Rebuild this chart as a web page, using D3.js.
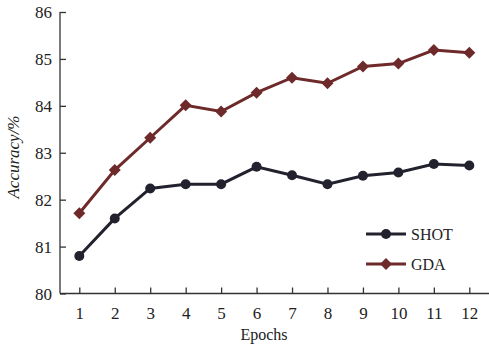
<!DOCTYPE html>
<meta charset="utf-8">
<style>
  body { margin: 0; background: #fff; }
  text { font-family: "Liberation Serif", "Times New Roman", serif; fill: #222; }
  .axis path, .axis line { stroke: #333; stroke-width: 1.3; }
  .axis text { font-size: 17px; }
</style>
<body>
<script src="https://d3js.org/d3.v7.min.js"></script>
<script>

var width = 489,
    height = 345;

var epochs = [1, 2, 3, 4, 5, 6, 7, 8, 9, 10, 11, 12];
var shot = [80.80, 81.60, 82.24, 82.33, 82.33, 82.70, 82.52, 82.33, 82.51, 82.58, 82.76, 82.73];
var gda = [81.71, 82.63, 83.32, 84.01, 83.88, 84.28, 84.60, 84.48, 84.84, 84.90, 85.19, 85.13];
var yTicks = [80, 81, 82, 83, 84, 85, 86];

var svg = d3.select("body").append("svg")
    .attr("width", width)
    .attr("height", height);

var x = d3.scaleLinear().domain([1, 12]).range([79.3, 469.3]);
var y = d3.scaleLinear().domain([80, 86]).range([293.5, 12]);

// axes
var xAxis = svg.append("g")
    .attr("class", "axis")
    .attr("transform", "translate(0," + y(80) + ")")
    .call(d3.axisTop(x).tickValues(epochs).tickSize(6).tickFormat(d3.format("d")));
xAxis.select(".domain").remove();
xAxis.selectAll("text").attr("y", 25).attr("dy", 0);
xAxis.append("line")
    .attr("x1", 60).attr("x2", width)
    .attr("y1", 0).attr("y2", 0);

var yAxis = svg.append("g")
    .attr("class", "axis")
    .attr("transform", "translate(60,0)")
    .call(d3.axisRight(y).tickValues(yTicks).tickSize(6).tickFormat(d3.format("d")));
yAxis.select(".domain").attr("d", "M0," + y(86) + "V" + y(80));
yAxis.selectAll("text").attr("x", -8).attr("text-anchor", "end").attr("dy", "0.35em");

svg.append("text")
    .attr("transform", "translate(19,157) rotate(-90)")
    .attr("text-anchor", "middle")
    .style("font-style", "italic")
    .style("font-size", "17px")
    .text("Accuracy/%");

svg.append("text")
    .attr("x", 264).attr("y", 340)
    .attr("text-anchor", "middle")
    .style("font-size", "16px")
    .text("Epochs");

// diamond = square turned 45 degrees
var series = [
  {name: "SHOT", values: shot, color: "#22222e", symbol: d3.symbolCircle, size: 78, rot: 0},
  {name: "GDA", values: gda, color: "#6e2a2a", symbol: d3.symbolSquare, size: 72, rot: 45}
];

var line = d3.line()
    .x(function(d, i) { return x(epochs[i]); })
    .y(function(d) { return y(d); });

series.forEach(function(s) {
  svg.append("path")
      .datum(s.values)
      .attr("fill", "none")
      .attr("stroke", s.color)
      .attr("stroke-width", 3)
      .attr("d", line);
  svg.selectAll(".pt-" + s.name)
      .data(s.values)
    .enter().append("path")
      .attr("transform", function(d, i) { return "translate(" + x(epochs[i]) + "," + y(d) + ") rotate(" + s.rot + ")"; })
      .attr("d", d3.symbol().type(s.symbol).size(s.size))
      .attr("fill", s.color);
});

// legend
var legend = svg.selectAll(".legend")
    .data(series)
  .enter().append("g")
    .attr("transform", function(d, i) { return "translate(366," + (234 + i * 30) + ")"; });
legend.append("line")
    .attr("x1", 0).attr("x2", 40)
    .attr("stroke", function(d) { return d.color; })
    .attr("stroke-width", 3);
legend.append("path")
    .attr("transform", function(d) { return "translate(20,0) rotate(" + d.rot + ")"; })
    .attr("d", function(d) { return d3.symbol().type(d.symbol).size(d.size)(); })
    .attr("fill", function(d) { return d.color; });
legend.append("text")
    .attr("x", 45).attr("dy", "0.35em")
    .style("font-size", "16px")
    .text(function(d) { return d.name; });

</script>
